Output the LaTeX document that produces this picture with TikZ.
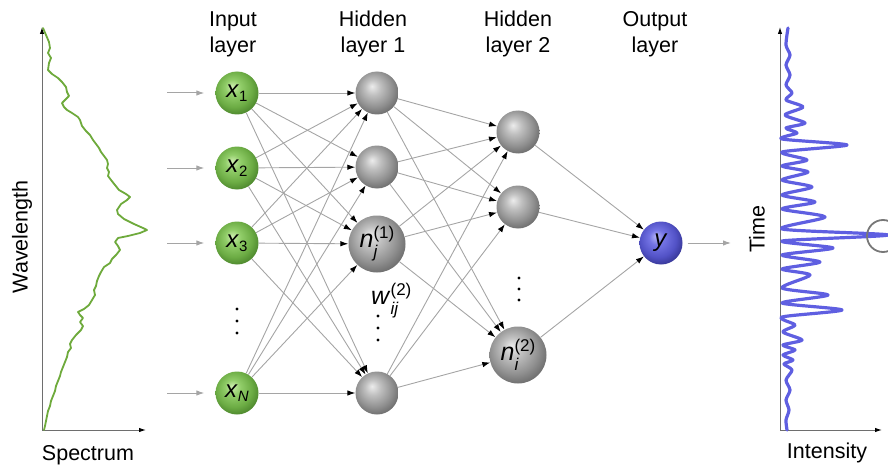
\documentclass[tikz,border=0pt]{standalone}
\usepackage{fontspec}
\setmainfont{Liberation Sans}
\usetikzlibrary{arrows.meta}
\definecolor{lnk}{RGB}{165,165,165}
\definecolor{axgray}{RGB}{110,110,110}
\definecolor{specgreen}{RGB}{110,170,60}
\definecolor{sigblue}{RGB}{95,95,225}
\definecolor{ringgray}{RGB}{120,120,120}
% sphere colours
\definecolor{gA}{RGB}{236,236,236}
\definecolor{gB}{RGB}{192,192,192}
\definecolor{gC}{RGB}{145,145,145}
\definecolor{gD}{RGB}{92,92,92}
\definecolor{eA}{RGB}{205,238,175}
\definecolor{eB}{RGB}{145,205,105}
\definecolor{eC}{RGB}{108,172,68}
\definecolor{eD}{RGB}{62,118,34}
\definecolor{bA}{RGB}{180,180,248}
\definecolor{bB}{RGB}{115,115,228}
\definecolor{bC}{RGB}{82,82,198}
\definecolor{bD}{RGB}{42,42,128}
\pgfdeclareradialshading{sphgray}{\pgfqpoint{-6bp}{8bp}}{color(0bp)=(gA); color(9bp)=(gB); color(21bp)=(gC); color(33bp)=(gD); color(50bp)=(gD)}
\pgfdeclareradialshading{sphgreen}{\pgfqpoint{-6bp}{8bp}}{color(0bp)=(eA); color(9bp)=(eB); color(21bp)=(eC); color(33bp)=(eD); color(50bp)=(eD)}
\pgfdeclareradialshading{sphblue}{\pgfqpoint{-6bp}{8bp}}{color(0bp)=(bA); color(9bp)=(bB); color(21bp)=(bC); color(33bp)=(bD); color(50bp)=(bD)}
\newcommand{\scfont}{\fontsize{15}{15}\selectfont}
\newcommand{\bscfont}{\fontsize{17}{17}\selectfont}
\newcommand{\lowsub}[2]{#1\raisebox{-3.5pt}{\scfont #2}}
\newcommand{\subsupp}[3]{#1\makebox[0pt][l]{\raisebox{-10pt}{\bscfont #2}}\raisebox{9pt}{\bscfont #3}}
\begin{document}
\begin{tikzpicture}[x=1pt,y=-1pt,
  nd/.style={circle, draw=none, inner sep=0pt, minimum size=43pt, font=\fontsize{24}{24}\selectfont},
  bignd/.style={minimum size=57pt, font=\fontsize{25}{25}\selectfont},
  inball/.style={nd, shading=sphgreen},
  hidball/.style={nd, shading=sphgray},
  outball/.style={nd, shading=sphblue},
  link/.style={draw=lnk, line width=0.9pt, -{Latex[color=black,length=8pt,width=5.5pt]}},
  feed/.style={draw=lnk, line width=1pt, -{Latex[color=lnk,length=8pt,width=5.5pt]}},
  axis/.style={draw=axgray, line width=1pt, -{Latex[color=black,length=7pt,width=4.5pt]}},
  hdr/.style={font=\fontsize{21.5}{26}\selectfont, align=center, inner sep=0pt},
  axlbl/.style={font=\fontsize{21.5}{26}\selectfont, inner sep=0pt},
  dotmark/.style={fill=black, draw=none, circle, inner sep=0pt, minimum size=3.2pt},
]
\useasboundingbox (0,0) rectangle (888,468);

% headers (base anchor = baseline of last line)
\node[hdr, anchor=base] (hIn) at (233,53) {Input\\layer};
\node[hdr, anchor=base] (hH1) at (373,53) {Hidden\\layer 1};
\node[hdr, anchor=base] (hH2) at (518,53) {Hidden\\layer 2};
\node[hdr, anchor=base] (hOut) at (655,53) {Output\\layer};

% input layer
\node[inball] (x1) at (237,93) {\lowsub{\textit{x}}{1}};
\node[inball] (x2) at (237,168) {\lowsub{\textit{x}}{2}};
\node[inball] (x3) at (237,243) {\lowsub{\textit{x}}{3}};
\node[inball] (xN) at (237,393) {\lowsub{\textit{x}}{\textit{N}}};
% hidden layer 1
\node[hidball] (h1) at (377,93) {};
\node[hidball] (h2) at (377,167) {};
\node[hidball, bignd] (h3) at (377,244) {\subsupp{\textit{n}}{\textit{j}}{(1)}};
\node[hidball] (h4) at (377,393) {};
% hidden layer 2
\node[hidball] (g1) at (518,132) {};
\node[hidball] (g2) at (518,207) {};
\node[hidball, bignd] (g3) at (518,355) {\subsupp{\textit{n}}{\textit{i}}{(2)}};
% output
\node[outball] (y) at (661,243) {\textit{y}};

% dots
\foreach \yy in {309,321,333} \node[dotmark] at (237,\yy) {};
\foreach \yy in {316,328,340} \node[dotmark] at (378,\yy) {};
\foreach \yy in {278,289,300} \node[dotmark] at (519,\yy) {};

% weight label
\node[anchor=base west, inner sep=0pt, font=\fontsize{25}{25}\selectfont] (w) at (371,304) {\subsupp{\textit{w}}{\textit{ij}}{(2)}};

% links
\foreach \a in {x1,x2,x3,xN}
  \foreach \b in {h1,h2,h3,h4}
    \draw[link] (\a) -- (\b);
\foreach \a in {h1,h2,h3,h4}
  \foreach \b in {g1,g2,g3}
    \draw[link] (\a) -- (\b);
\foreach \a in {g1,g2,g3}
  \draw[link] (\a) -- (y);

% input feeds
\foreach \n/\yy in {x1/93,x2/168,x3/243,xN/393}{
  \coordinate (s\n) at (167,\yy);
  \draw[feed] (s\n) -- ([xshift=-11pt]\n.west);
}
% output feed
\coordinate (outend) at (731,243);
\draw[feed] ([xshift=5pt]y.east) -- (outend);

% spectrum plot
\coordinate (o1) at (42,430);
\coordinate (t1) at (42,27);
\coordinate (r1) at (146,430);
\draw[axis] (o1) -- (t1);
\draw[axis] (o1) -- (r1);
\node[axlbl, rotate=90] (wl) at (22,237) {Wavelength};
\node[axlbl, anchor=base] (sp) at (88,460) {Spectrum};
\draw[specgreen, line width=1.8pt, line join=round, line cap=round]
 plot coordinates {(43,28) (46,35) (49,42) (50,48) (48,53) (51,58) (49,63) (48,70) (52,74) (58,78) (62,82) (66,87) (67,92) (69,96) (66,99) (62,103) (64,107) (67,110) (72,113) (78,117) (80,120) (82,126) (86,131) (90,135) (93,140) (96,144) (99,148) (101,152) (104,156) (107,160) (108,164) (107,168) (109,172) (108,176) (111,180) (115,185) (119,190) (126,194) (130,197) (127,200) (121,204) (117,210) (118,214) (124,219) (134,224) (143,228) (147,230) (140,233) (128,236) (118,238) (115,242) (118,246) (120,250) (116,255) (112,259) (110,263) (104,267) (101,272) (99,276) (97,281) (96,286) (94,290) (95,295) (92,300) (89,305) (84,309) (78,312) (80,315) (83,318) (80,322) (83,326) (81,330) (76,335) (72,340) (70,344) (71,348) (68,352) (67,357) (65,362) (63,367) (61,372) (60,376) (58,381) (56,386) (55,391) (53,396) (51,401) (50,406) (48,411) (47,416) (46,421) (45,426) (44,430)};

% intensity plot
\coordinate (o2) at (780,430);
\coordinate (t2) at (780,27);
\coordinate (r2) at (882,430);
\draw[axis] (o2) -- (t2);
\draw[axis] (o2) -- (r2);
\node[axlbl, rotate=90] (tm) at (757,229) {Time};
\node[axlbl, anchor=base] (it) at (827,458) {Intensity};
\draw[sigblue, line width=3.2pt, line join=round, line cap=round]
 plot[smooth, tension=0.45] coordinates {(787,430) (786,420) (789,410) (786,400) (790,390) (786,380) (792,370) (784,364) (793,360) (783,355) (795,350) (783,345) (802,340) (783,332) (795,325) (782,317) (842,310) (782,303) (828,295) (782,288) (810,275) (782,269) (820,262) (782,255) (833,248) (782,241) (888,235) (782,229) (825,217) (782,209) (815,202) (782,195) (812,187) (782,180) (808,172) (782,166) (807,160) (782,152) (847,145) (782,139) (797,133) (786,128) (805,123) (785,115) (803,107) (786,100) (792,93) (786,85) (790,75) (786,65) (790,55) (786,45) (788,28)};
\node[circle, draw=ringgray, line width=1.8pt, minimum size=32pt, inner sep=0pt] (ring) at (883,236) {};
\end{tikzpicture}
\end{document}
